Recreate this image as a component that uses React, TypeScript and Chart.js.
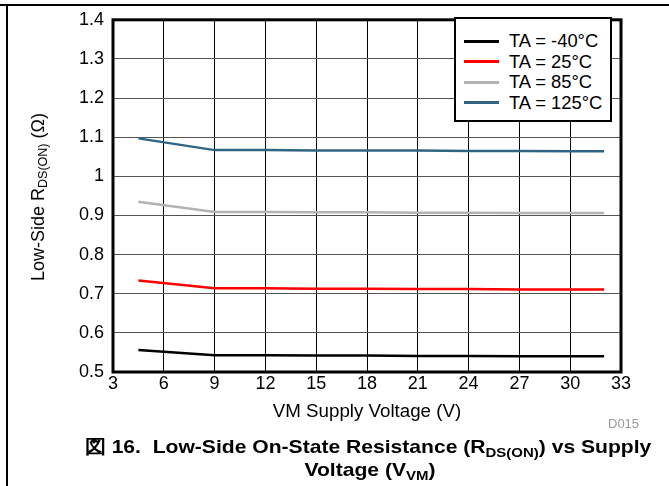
import React, { useEffect, useRef } from "react";
import { Chart, registerables } from "chart.js";

Chart.register(...registerables);

const voltages = [4.5, 9, 12, 15, 18, 21, 24, 27, 30, 32];
const seriesLabels = ["TA = -40°C", "TA = 25°C", "TA = 85°C", "TA = 125°C"];
const seriesColors = ["#000000", "#ff0000", "#b3b3b3", "#2f6583"];
const rM40 = [0.556, 0.543, 0.543, 0.542, 0.542, 0.541, 0.541, 0.540, 0.540, 0.540];
const r25 = [0.734, 0.714, 0.714, 0.713, 0.713, 0.712, 0.712, 0.711, 0.711, 0.711];
const r85 = [0.935, 0.909, 0.909, 0.908, 0.908, 0.907, 0.907, 0.906, 0.906, 0.906];
const r125 = [1.097, 1.067, 1.067, 1.066, 1.066, 1.066, 1.065, 1.065, 1.064, 1.064];
const xTickValues = [3, 6, 9, 12, 15, 18, 21, 24, 27, 30, 33];
const yTickLabels = ["0.5", "0.6", "0.7", "0.8", "0.9", "1", "1.1", "1.2", "1.3", "1.4"];

const FONT = "'Liberation Sans', Arial, Helvetica, sans-serif";

export default function App() {
  const ref = useRef<HTMLCanvasElement | null>(null);

  useEffect(() => {
    const canvas = ref.current;
    if (!canvas) return;
    const all = [rM40, r25, r85, r125];
    const frame = {
      id: "frame",
      afterDatasetsDraw(chart: any) {
        const { ctx, chartArea: a } = chart;
        ctx.save();
        ctx.strokeStyle = "#000";
        ctx.lineWidth = 3;
        ctx.strokeRect(a.left, a.top, a.right - a.left, a.bottom - a.top);
        ctx.restore();
      },
    };
    const chart = new Chart(canvas, {
      type: "line",
      data: {
        datasets: all.map((vals, i) => ({
          label: seriesLabels[i],
          data: voltages.map((v, j) => ({ x: v, y: vals[j] })),
          borderColor: seriesColors[i],
          backgroundColor: seriesColors[i],
          borderWidth: 2.5,
          pointRadius: 0,
          tension: 0,
        })),
      },
      options: {
        animation: false,
        responsive: false,
        devicePixelRatio: 1,
        layout: { padding: { left: 0, right: 48, top: 18, bottom: 0 } },
        plugins: { legend: { display: false }, tooltip: { enabled: false } },
        scales: {
          x: {
            type: "linear",
            min: 3,
            max: 33,
            afterBuildTicks(scale: any) {
              scale.ticks = xTickValues.map((v) => ({ value: v }));
            },
            afterFit(scale: any) {
              scale.height = 114;
            },
            ticks: {
              color: "#000",
              font: { family: FONT, size: 18 },
              padding: 1,
              maxRotation: 0,
              autoSkip: false,
            },
            grid: { color: "#000", lineWidth: 1, drawTicks: false },
            border: { display: false },
          },
          y: {
            type: "linear",
            min: 0.5,
            max: 1.4,
            afterBuildTicks(scale: any) {
              scale.ticks = yTickLabels.map((s) => ({ value: parseFloat(s) }));
            },
            afterFit(scale: any) {
              scale.width = 113;
            },
            ticks: {
              color: "#000",
              font: { family: FONT, size: 18 },
              padding: 9,
              autoSkip: false,
              callback: (v: any) => {
                const idx = yTickLabels.findIndex((s) => Math.abs(parseFloat(s) - v) < 1e-6);
                return idx >= 0 ? yTickLabels[idx] : "";
              },
            },
            grid: { color: "#555", lineWidth: 1, drawTicks: false },
            border: { display: false },
          },
        },
      },
      plugins: [frame],
    } as any);
    return () => chart.destroy();
  }, []);

  const txt: React.CSSProperties = { position: "absolute", fontFamily: FONT, color: "#000", whiteSpace: "nowrap" };
  const sub = (size: number, off: number): React.CSSProperties => ({ fontSize: size, verticalAlign: `-${off}px`, lineHeight: 0 });

  return (
    <div style={{ position: "absolute", left: 0, top: 0, width: 669, height: 486, background: "#fff", overflow: "hidden" }}>
      <div style={{ position: "absolute", left: 0, top: 4, width: 669, height: 1.5, background: "#000" }} />
      <div style={{ position: "absolute", left: 6, top: 4, width: 1.5, height: 482, background: "#000" }} />
      <canvas ref={ref} width={669} height={486} style={{ position: "absolute", left: 0, top: 0, width: 669, height: 486 }} />
      <div
        style={{
          position: "absolute",
          left: 454,
          top: 17,
          width: 158,
          height: 105,
          boxSizing: "border-box",
          border: "2px solid #000",
          background: "#fff",
        }}
      >
        {seriesLabels.map((l, i) => (
          <div key={l} style={{ position: "absolute", left: 8, top: 12 + i * 20.5, height: 20, width: 150 }}>
            <div style={{ position: "absolute", left: 0, top: 8.5, width: 35, height: 3, background: seriesColors[i] }} />
            <div style={{ ...txt, left: 45, top: 0, fontSize: 17.5, lineHeight: "20px", transform: "scaleX(1.05)", transformOrigin: "left center" }}>{l}</div>
          </div>
        ))}
      </div>
      <div style={{ ...txt, left: 38, top: 197, width: 0, height: 0 }}>
        <div style={{ position: "absolute", transform: "translate(-50%, -50%) rotate(-90deg)", fontSize: 18, lineHeight: "20px" }}>
          Low-Side R<sub style={sub(12.5, 3)}>DS(ON)</sub> (Ω)
        </div>
      </div>
      <div style={{ ...txt, left: 0, width: 734, top: 401, textAlign: "center", fontSize: 17.5, lineHeight: "20px", transform: "scaleX(1.07)", transformOrigin: "367px center" }}>
        VM Supply Voltage (V)
      </div>
      <div style={{ ...txt, left: 608, top: 416, fontSize: 13, color: "#999", lineHeight: "15px" }}>D015</div>
      <div style={{ ...txt, left: 0, width: 736, top: 437, textAlign: "center", fontSize: 19, fontWeight: "bold", lineHeight: "20px", transform: "scaleX(1.11)", transformOrigin: "368px center" }}>
        図 16.&nbsp; Low-Side On-State Resistance (R<sub style={sub(13.5, 4)}>DS(ON)</sub>) vs Supply
      </div>
      <div style={{ ...txt, left: 0, width: 740, top: 460, textAlign: "center", fontSize: 19, fontWeight: "bold", lineHeight: "20px", transform: "scaleX(1.11)", transformOrigin: "370px center" }}>
        Voltage (V<sub style={sub(13.5, 4)}>VM</sub>)
      </div>
    </div>
  );
}
